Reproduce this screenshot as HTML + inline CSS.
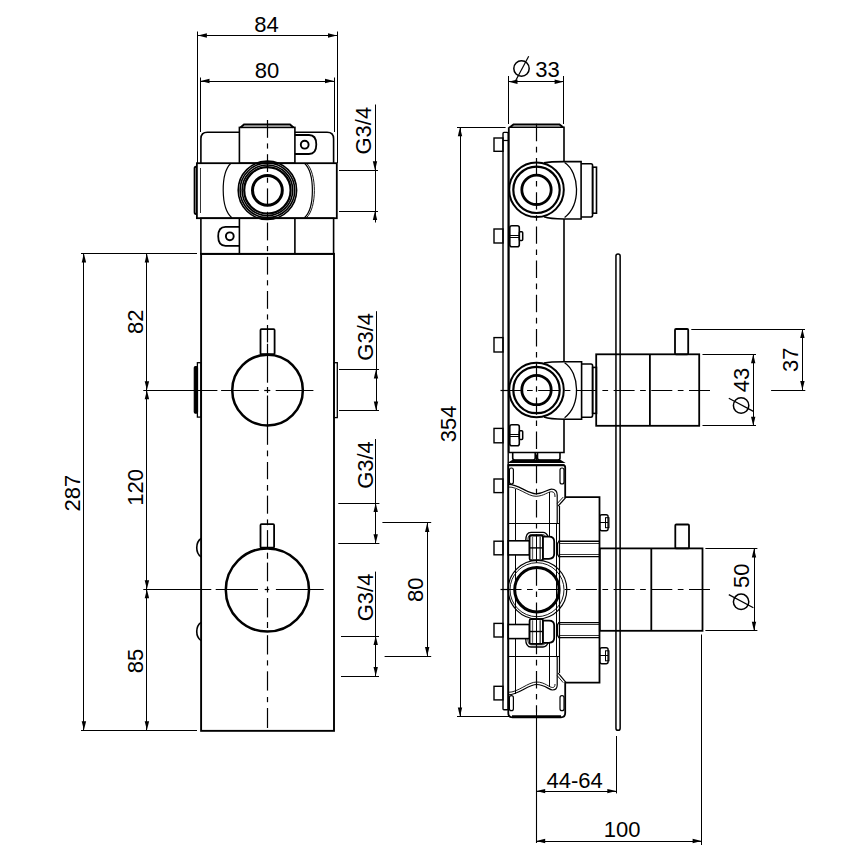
<!DOCTYPE html>
<html><head><meta charset="utf-8"><style>
html,body{margin:0;padding:0;background:#fff;}
svg{display:block;font-family:"Liberation Sans",sans-serif;}
</style></head><body>
<svg width="853" height="853" viewBox="0 0 853 853">
<rect width="853" height="853" fill="#fff"/>
<line x1="197.5" y1="31.5" x2="197.5" y2="163" stroke="#000" stroke-width="1.0" />
<line x1="337.5" y1="31.5" x2="337.5" y2="163" stroke="#000" stroke-width="1.0" />
<line x1="197.4" y1="35.5" x2="337.5" y2="35.5" stroke="#000" stroke-width="1.0" />
<polygon points="197.9,35.5 206.90,33.30 206.90,37.70" fill="#000"/>
<polygon points="337,35.5 328.00,37.70 328.00,33.30" fill="#000"/>
<text x="266.5" y="32" font-size="22" text-anchor="middle">84</text>
<line x1="200.5" y1="77.5" x2="200.5" y2="132" stroke="#000" stroke-width="1.0" />
<line x1="334.5" y1="77.5" x2="334.5" y2="132" stroke="#000" stroke-width="1.0" />
<line x1="200.5" y1="81.5" x2="334" y2="81.5" stroke="#000" stroke-width="1.0" />
<polygon points="200.5,81 209.50,78.80 209.50,83.20" fill="#000"/>
<polygon points="334,81 325.00,83.20 325.00,78.80" fill="#000"/>
<text x="267" y="77.5" font-size="22" text-anchor="middle">80</text>
<path d="M200.9,163.2 V138.8 Q200.9,132.3 207.4,132.3 H239.4" fill="none" stroke="#000" stroke-width="1.6" />
<path d="M294.9,132.3 H327.1 Q333.6,132.3 333.6,138.8 V163.2" fill="none" stroke="#000" stroke-width="1.6" />
<rect x="239.4" y="127.4" width="55.5" height="35.8" rx="0" fill="none" stroke="#000" stroke-width="1.6"/>
<path d="M240.5,127.4 L244,124.5 H290 L293.5,127.4" fill="none" stroke="#000" stroke-width="2.0" />
<rect x="196.9" y="163.2" width="139.9" height="55" rx="0" fill="none" stroke="#000" stroke-width="1.8"/>
<path d="M197,166.8 H196 Q194.6,166.8 194.6,168.5 V212.3 Q194.6,214 196,214 H197" fill="none" stroke="#000" stroke-width="1.9" />
<line x1="196.5" y1="167.5" x2="196.5" y2="213.5" stroke="#000" stroke-width="1.0" />
<line x1="200.5" y1="168" x2="200.5" y2="213" stroke="#000" stroke-width="0.8" />
<rect x="200.9" y="218.2" width="132.7" height="35.8" rx="0" fill="none" stroke="#000" stroke-width="1.6"/>
<line x1="239.4" y1="218.2" x2="239.4" y2="254" stroke="#000" stroke-width="1.6" />
<line x1="294.9" y1="218.2" x2="294.9" y2="254" stroke="#000" stroke-width="1.6" />
<path d="M230.9,163.2 C220.5,173 220.5,208 231.8,217.7" fill="none" stroke="#000" stroke-width="1.2" />
<path d="M304.5,163.2 C315,173 315,208 304.5,217.7" fill="none" stroke="#000" stroke-width="1.2" />
<path d="M306.5,163.2 C317,173 317,208 306.5,217.7" fill="none" stroke="#000" stroke-width="0.9" />
<path d="M294.9,135 H309 Q316.3,135 316.3,144.5 Q316.3,154 309,154 H294.9" fill="none" stroke="#000" stroke-width="1.8" />
<circle cx="304.7" cy="144.7" r="3.9" fill="none" stroke="#000" stroke-width="1.9"/>
<path d="M239.4,226.8 H225.5 Q218.2,226.8 218.2,236.3 Q218.2,245.8 225.5,245.8 H239.4" fill="none" stroke="#000" stroke-width="1.8" />
<circle cx="229.8" cy="236.3" r="3.9" fill="none" stroke="#000" stroke-width="1.9"/>
<circle cx="267.4" cy="190.3" r="29.2" fill="none" stroke="#000" stroke-width="1.6"/>
<circle cx="267.4" cy="190.3" r="27.3" fill="none" stroke="#000" stroke-width="1.6"/>
<circle cx="267.4" cy="190.3" r="25.3" fill="none" stroke="#000" stroke-width="1.6"/>
<circle cx="267.4" cy="190.3" r="23.2" fill="none" stroke="#000" stroke-width="2.2"/>
<circle cx="267.4" cy="190.3" r="14.9" fill="none" stroke="#000" stroke-width="3.0"/>
<line x1="267.5" y1="120" x2="267.5" y2="137.8" stroke="#000" stroke-width="1.2" />
<line x1="267.5" y1="143.4" x2="267.5" y2="148.6" stroke="#000" stroke-width="1.2" />
<line x1="267.5" y1="154.2" x2="267.5" y2="172" stroke="#000" stroke-width="1.2" />
<line x1="267.5" y1="177.6" x2="267.5" y2="182.8" stroke="#000" stroke-width="1.2" />
<line x1="267.5" y1="188.4" x2="267.5" y2="206.2" stroke="#000" stroke-width="1.2" />
<line x1="267.5" y1="211.8" x2="267.5" y2="217" stroke="#000" stroke-width="1.2" />
<line x1="267.5" y1="222.6" x2="267.5" y2="240.4" stroke="#000" stroke-width="1.2" />
<line x1="267.5" y1="246" x2="267.5" y2="251.2" stroke="#000" stroke-width="1.2" />
<line x1="267.5" y1="256.8" x2="267.5" y2="274.6" stroke="#000" stroke-width="1.2" />
<line x1="267.5" y1="280.2" x2="267.5" y2="285.4" stroke="#000" stroke-width="1.2" />
<line x1="267.5" y1="291" x2="267.5" y2="308.8" stroke="#000" stroke-width="1.2" />
<line x1="267.5" y1="314.4" x2="267.5" y2="319.6" stroke="#000" stroke-width="1.2" />
<line x1="267.5" y1="325" x2="267.5" y2="342.4" stroke="#000" stroke-width="1.2" />
<line x1="267.5" y1="343.8" x2="267.5" y2="382.7" stroke="#000" stroke-width="1.2" />
<line x1="267.5" y1="387" x2="267.5" y2="393" stroke="#000" stroke-width="1.2" />
<line x1="267.5" y1="395.5" x2="267.5" y2="444.8" stroke="#000" stroke-width="1.2" />
<line x1="267.5" y1="450.5" x2="267.5" y2="456.3" stroke="#000" stroke-width="1.2" />
<line x1="267.5" y1="462" x2="267.5" y2="479.2" stroke="#000" stroke-width="1.2" />
<line x1="267.5" y1="485" x2="267.5" y2="490.7" stroke="#000" stroke-width="1.2" />
<line x1="267.5" y1="495.6" x2="267.5" y2="513.7" stroke="#000" stroke-width="1.2" />
<line x1="267.5" y1="519.4" x2="267.5" y2="525.2" stroke="#000" stroke-width="1.2" />
<line x1="267.5" y1="530.1" x2="267.5" y2="548.2" stroke="#000" stroke-width="1.2" />
<line x1="267.5" y1="552.7" x2="267.5" y2="558.8" stroke="#000" stroke-width="1.2" />
<line x1="267.5" y1="562.6" x2="267.5" y2="581.3" stroke="#000" stroke-width="1.2" />
<line x1="267.5" y1="586.5" x2="267.5" y2="592.5" stroke="#000" stroke-width="1.2" />
<line x1="267.5" y1="598" x2="267.5" y2="617.4" stroke="#000" stroke-width="1.2" />
<line x1="267.5" y1="622" x2="267.5" y2="628" stroke="#000" stroke-width="1.2" />
<line x1="267.5" y1="635.2" x2="267.5" y2="654.5" stroke="#000" stroke-width="1.2" />
<line x1="267.5" y1="660.3" x2="267.5" y2="665.5" stroke="#000" stroke-width="1.2" />
<line x1="267.5" y1="671.3" x2="267.5" y2="690.6" stroke="#000" stroke-width="1.2" />
<line x1="267.5" y1="697" x2="267.5" y2="702.2" stroke="#000" stroke-width="1.2" />
<line x1="267.5" y1="708" x2="267.5" y2="728" stroke="#000" stroke-width="1.2" />
<rect x="201.1" y="253.85" width="132.9" height="477" rx="0" fill="none" stroke="#000" stroke-width="1.9"/>
<rect x="260.5" y="329.2" width="14.1" height="25" rx="1" fill="none" stroke="#000" stroke-width="1.8"/>
<circle cx="267.55" cy="390.15" r="35.3" fill="none" stroke="#000" stroke-width="2.5"/>
<line x1="143.3" y1="390.5" x2="217.4" y2="390.5" stroke="#000" stroke-width="1.2" />
<line x1="221.1" y1="390.5" x2="258.8" y2="390.5" stroke="#000" stroke-width="1.2" />
<line x1="264.2" y1="390.5" x2="270.3" y2="390.5" stroke="#000" stroke-width="1.2" />
<line x1="275.7" y1="390.5" x2="313.4" y2="390.5" stroke="#000" stroke-width="1.2" />
<rect x="197.4" y="362.7" width="3.7" height="54.4" rx="0" fill="none" stroke="#000" stroke-width="1.3"/>
<rect x="194.3" y="366.6" width="3.2" height="46.6" rx="1.2" fill="#000" stroke="#000" stroke-width="1.2"/>
<rect x="334" y="362.7" width="3.3" height="54.9" rx="0" fill="none" stroke="#000" stroke-width="1.3"/>
<rect x="260.5" y="524.2" width="13.6" height="23.5" rx="1" fill="none" stroke="#000" stroke-width="1.8"/>
<circle cx="267.4" cy="590.0" r="41.6" fill="none" stroke="#000" stroke-width="2.5"/>
<line x1="143.3" y1="589.5" x2="211.3" y2="589.5" stroke="#000" stroke-width="1.2" />
<line x1="215.7" y1="589.5" x2="258" y2="589.5" stroke="#000" stroke-width="1.2" />
<line x1="264.7" y1="589.5" x2="269.2" y2="589.5" stroke="#000" stroke-width="1.2" />
<line x1="275.9" y1="589.5" x2="323.7" y2="589.5" stroke="#000" stroke-width="1.2" />
<path d="M201.1,538.5 C195.3,542.5 195.3,552.8 201.1,556.8" fill="none" stroke="#000" stroke-width="1.6" />
<path d="M201.1,622.3 C195.3,626.3 195.3,636.6 201.1,640.6" fill="none" stroke="#000" stroke-width="1.6" />
<line x1="81" y1="253.5" x2="197" y2="253.5" stroke="#000" stroke-width="1.0" />
<line x1="81" y1="730.5" x2="197" y2="730.5" stroke="#000" stroke-width="1.0" />
<line x1="83.5" y1="253.4" x2="83.5" y2="730.3" stroke="#000" stroke-width="1.0" />
<polygon points="83.9,253.4 86.10,262.40 81.70,262.40" fill="#000"/>
<polygon points="83.9,730.3 81.70,721.30 86.10,721.30" fill="#000"/>
<text x="0" y="0" transform="translate(79.8,493.2) rotate(-90)" font-size="22" text-anchor="middle">287</text>
<line x1="146.5" y1="253.4" x2="146.5" y2="730.3" stroke="#000" stroke-width="1.0" />
<polygon points="146.9,253.4 149.10,262.40 144.70,262.40" fill="#000"/>
<polygon points="146.9,390.2 144.70,381.20 149.10,381.20" fill="#000"/>
<polygon points="146.9,390.2 149.10,399.20 144.70,399.20" fill="#000"/>
<polygon points="146.9,589.3 144.70,580.30 149.10,580.30" fill="#000"/>
<polygon points="146.9,589.3 149.10,598.30 144.70,598.30" fill="#000"/>
<polygon points="146.9,730.3 144.70,721.30 149.10,721.30" fill="#000"/>
<text x="0" y="0" transform="translate(143.2,321.8) rotate(-90)" font-size="22" text-anchor="middle">82</text>
<text x="0" y="0" transform="translate(143.2,487.3) rotate(-90)" font-size="22" text-anchor="middle">120</text>
<text x="0" y="0" transform="translate(143.2,661) rotate(-90)" font-size="22" text-anchor="middle">85</text>
<line x1="375.5" y1="104.5" x2="375.5" y2="222.5" stroke="#000" stroke-width="1.0" />
<line x1="339" y1="170.5" x2="378" y2="170.5" stroke="#000" stroke-width="1.0" />
<line x1="339" y1="211.5" x2="378" y2="211.5" stroke="#000" stroke-width="1.0" />
<polygon points="375,170.2 372.80,161.20 377.20,161.20" fill="#000"/>
<polygon points="375,211 377.20,220.00 372.80,220.00" fill="#000"/>
<text x="0" y="0" transform="translate(370.5,130.7) rotate(-90)" font-size="22" text-anchor="middle">G3/4</text>
<line x1="376.5" y1="311.2" x2="376.5" y2="410.5" stroke="#000" stroke-width="1.0" />
<line x1="339" y1="369.5" x2="379" y2="369.5" stroke="#000" stroke-width="1.0" />
<line x1="339" y1="410.5" x2="379" y2="410.5" stroke="#000" stroke-width="1.0" />
<polygon points="376,369.5 378.20,378.50 373.80,378.50" fill="#000"/>
<polygon points="376,410.5 373.80,401.50 378.20,401.50" fill="#000"/>
<text x="0" y="0" transform="translate(372.5,336.8) rotate(-90)" font-size="22" text-anchor="middle">G3/4</text>
<line x1="375.5" y1="439" x2="375.5" y2="543.3" stroke="#000" stroke-width="1.0" />
<line x1="338.3" y1="503.5" x2="379.4" y2="503.5" stroke="#000" stroke-width="1.0" />
<line x1="338.3" y1="543.5" x2="379.4" y2="543.5" stroke="#000" stroke-width="1.0" />
<polygon points="375.7,503.1 377.90,512.10 373.50,512.10" fill="#000"/>
<polygon points="375.7,543.3 373.50,534.30 377.90,534.30" fill="#000"/>
<text x="0" y="0" transform="translate(372.7,465) rotate(-90)" font-size="22" text-anchor="middle">G3/4</text>
<line x1="375.5" y1="571.6" x2="375.5" y2="676.1" stroke="#000" stroke-width="1.0" />
<line x1="341" y1="636.5" x2="379" y2="636.5" stroke="#000" stroke-width="1.0" />
<line x1="341" y1="676.5" x2="379" y2="676.5" stroke="#000" stroke-width="1.0" />
<polygon points="375.7,636 377.90,645.00 373.50,645.00" fill="#000"/>
<polygon points="375.7,676.1 373.50,667.10 377.90,667.10" fill="#000"/>
<text x="0" y="0" transform="translate(372.7,597.4) rotate(-90)" font-size="22" text-anchor="middle">G3/4</text>
<line x1="427.5" y1="522.9" x2="427.5" y2="656" stroke="#000" stroke-width="1.0" />
<line x1="382.4" y1="522.5" x2="431.2" y2="522.5" stroke="#000" stroke-width="1.0" />
<line x1="384.6" y1="656.5" x2="431.2" y2="656.5" stroke="#000" stroke-width="1.0" />
<polygon points="427.2,522.9 429.40,531.90 425.00,531.90" fill="#000"/>
<polygon points="427.2,656 425.00,647.00 429.40,647.00" fill="#000"/>
<text x="0" y="0" transform="translate(423,589.8) rotate(-90)" font-size="22" text-anchor="middle">80</text>
<line x1="508.5" y1="76" x2="508.5" y2="124" stroke="#000" stroke-width="1.0" />
<line x1="563.5" y1="76" x2="563.5" y2="124" stroke="#000" stroke-width="1.0" />
<line x1="508.5" y1="81.5" x2="563.6" y2="81.5" stroke="#000" stroke-width="1.0" />
<polygon points="508.5,81.7 517.50,79.50 517.50,83.90" fill="#000"/>
<polygon points="563.6,81.7 554.60,83.90 554.60,79.50" fill="#000"/>
<g><circle cx="521.5" cy="68.5" r="7.7" fill="none" stroke="#000" stroke-width="1.5"/><line x1="515.6" y1="80.8" x2="528.7" y2="56.2" stroke="#000" stroke-width="1.2"/></g>
<text x="547.4" y="77.2" font-size="22" text-anchor="middle">33</text>
<line x1="457" y1="127.5" x2="505.6" y2="127.5" stroke="#000" stroke-width="1.0" />
<line x1="457" y1="716.5" x2="509.4" y2="716.5" stroke="#000" stroke-width="1.0" />
<line x1="460.5" y1="127.2" x2="460.5" y2="716.4" stroke="#000" stroke-width="1.0" />
<polygon points="460,127.2 462.20,136.20 457.80,136.20" fill="#000"/>
<polygon points="460,716.4 457.80,707.40 462.20,707.40" fill="#000"/>
<text x="0" y="0" transform="translate(456,423.9) rotate(-90)" font-size="22" text-anchor="middle">354</text>
<line x1="508.8" y1="127.3" x2="508.8" y2="452.5" stroke="#000" stroke-width="1.8" />
<path d="M508.8,127.3 H564 V161.7" fill="none" stroke="#000" stroke-width="1.6" />
<path d="M564,219 V361.1" fill="none" stroke="#000" stroke-width="1.6" />
<path d="M564,418.8 V452.5 H508.8" fill="none" stroke="#000" stroke-width="1.6" />
<path d="M510,127.3 L513.5,124.4 H559.5 L563,127.3" fill="none" stroke="#000" stroke-width="2.0" />
<rect x="503" y="132.4" width="5.2" height="577.4" rx="1" fill="none" stroke="#000" stroke-width="1.4"/>
<line x1="503" y1="140.5" x2="508.2" y2="140.5" stroke="#000" stroke-width="1.2" />
<rect x="494" y="138" width="9" height="13.300000000000011" rx="0" fill="none" stroke="#000" stroke-width="1.4"/>
<rect x="494" y="229" width="9" height="14" rx="0" fill="none" stroke="#000" stroke-width="1.4"/>
<rect x="494" y="337.6" width="9" height="14.399999999999977" rx="0" fill="none" stroke="#000" stroke-width="1.4"/>
<rect x="494" y="428.4" width="9" height="14.400000000000034" rx="0" fill="none" stroke="#000" stroke-width="1.4"/>
<rect x="494" y="479" width="9" height="13.600000000000023" rx="0" fill="none" stroke="#000" stroke-width="1.4"/>
<rect x="494" y="541.2" width="9" height="13.599999999999909" rx="0" fill="none" stroke="#000" stroke-width="1.4"/>
<rect x="494" y="623.4" width="9" height="13.600000000000023" rx="0" fill="none" stroke="#000" stroke-width="1.4"/>
<rect x="494" y="686.3" width="9" height="13.600000000000023" rx="0" fill="none" stroke="#000" stroke-width="1.4"/>
<rect x="509.8" y="225.7" width="9.5" height="21" rx="2" fill="none" stroke="#000" stroke-width="1.6"/>
<rect x="519.3" y="231.79999999999998" width="3.4" height="8.8" rx="1" fill="none" stroke="#000" stroke-width="1.5"/>
<line x1="509.8" y1="235.5" x2="519.3" y2="235.5" stroke="#000" stroke-width="1.0" />
<line x1="509.8" y1="237.5" x2="519.3" y2="237.5" stroke="#000" stroke-width="1.0" />
<rect x="509.8" y="424.7" width="9.5" height="21" rx="2" fill="none" stroke="#000" stroke-width="1.6"/>
<rect x="519.3" y="430.8" width="3.4" height="8.8" rx="1" fill="none" stroke="#000" stroke-width="1.5"/>
<line x1="509.8" y1="434.5" x2="519.3" y2="434.5" stroke="#000" stroke-width="1.0" />
<line x1="509.8" y1="436.5" x2="519.3" y2="436.5" stroke="#000" stroke-width="1.0" />
<circle cx="536.5" cy="189.8" r="27.3" fill="none" stroke="#000" stroke-width="2.0"/>
<circle cx="536.5" cy="189.8" r="23.2" fill="none" stroke="#000" stroke-width="2.2"/>
<circle cx="536.5" cy="189.8" r="14.7" fill="none" stroke="#000" stroke-width="2.8"/>
<path d="M544,162.8 Q550,161.60000000000002 564,161.60000000000002 H581.1 V219.0 H564 Q550,219.0 544,216.8" fill="none" stroke="#000" stroke-width="1.6" />
<path d="M564.6,162.5 C580,172.8 581,204.8 564.6,217.60000000000002" fill="none" stroke="#000" stroke-width="1.3" />
<path d="M581.1,163.8 H591 Q592.6,163.8 592.6,165.8 V214.8 Q592.6,217.0 591,217.0 H581.1" fill="none" stroke="#000" stroke-width="1.6" />
<rect x="592.6" y="167.20000000000002" width="3.9" height="46" rx="0" fill="none" stroke="#000" stroke-width="1.6"/>
<circle cx="536.5" cy="390" r="27.3" fill="none" stroke="#000" stroke-width="2.0"/>
<circle cx="536.5" cy="390" r="23.2" fill="none" stroke="#000" stroke-width="2.2"/>
<circle cx="536.5" cy="390" r="14.7" fill="none" stroke="#000" stroke-width="2.8"/>
<path d="M544,363 Q550,361.8 564,361.8 H581.6 V419.2 H564 Q550,419.2 544,417" fill="none" stroke="#000" stroke-width="1.6" />
<path d="M564.6,362.7 C580,373 581,405 564.6,417.8" fill="none" stroke="#000" stroke-width="1.3" />
<path d="M581.6,364 H591 Q592.6,364 592.6,366 V415 Q592.6,417.2 591,417.2 H581.6" fill="none" stroke="#000" stroke-width="1.6" />
<rect x="592.6" y="367.4" width="3.9" height="46" rx="0" fill="none" stroke="#000" stroke-width="1.6"/>
<rect x="615.95" y="253.95" width="4.2" height="476.3" rx="2.1" fill="none" stroke="#000" stroke-width="1.5"/>
<line x1="536.5" y1="121" x2="536.5" y2="712" stroke="#000" stroke-width="1.2" stroke-dasharray="17.4 5.6 5.6 5.6" stroke-dashoffset="31.4"/>
<line x1="536.5" y1="712" x2="536.5" y2="843" stroke="#000" stroke-width="1.1" />
<rect x="596.2" y="354.3" width="103" height="71.5" rx="0" fill="none" stroke="#000" stroke-width="1.8"/>
<line x1="649.9" y1="354.3" x2="649.9" y2="425.8" stroke="#000" stroke-width="1.8" />
<rect x="675" y="329" width="13.2" height="25.3" rx="1" fill="none" stroke="#000" stroke-width="1.8"/>
<line x1="500.5" y1="390.5" x2="711" y2="390.5" stroke="#000" stroke-width="1.2" stroke-dasharray="21 5.5 5.7 5.5" stroke-dashoffset="0"/>
<line x1="771.1" y1="390.5" x2="805.3" y2="390.5" stroke="#000" stroke-width="1.0" />
<line x1="702.5" y1="354.5" x2="756" y2="354.5" stroke="#000" stroke-width="1.0" />
<line x1="702.5" y1="425.5" x2="756" y2="425.5" stroke="#000" stroke-width="1.0" />
<line x1="753.5" y1="354.3" x2="753.5" y2="425.8" stroke="#000" stroke-width="1.0" />
<polygon points="753.2,354.3 755.40,363.30 751.00,363.30" fill="#000"/>
<polygon points="753.2,425.8 751.00,416.80 755.40,416.80" fill="#000"/>
<g transform="rotate(-90 741.1 405.5)"><circle cx="741.1" cy="405.5" r="7.7" fill="none" stroke="#000" stroke-width="1.5"/><line x1="735.2" y1="417.8" x2="748.3000000000001" y2="393.2" stroke="#000" stroke-width="1.2"/></g>
<text x="0" y="0" transform="translate(749,380) rotate(-90)" font-size="22" text-anchor="middle">43</text>
<line x1="691.3" y1="329.5" x2="805" y2="329.5" stroke="#000" stroke-width="1.0" />
<line x1="802.5" y1="329" x2="802.5" y2="390" stroke="#000" stroke-width="1.0" />
<polygon points="802.4,329 804.60,338.00 800.20,338.00" fill="#000"/>
<polygon points="802.4,390 800.20,381.00 804.60,381.00" fill="#000"/>
<text x="0" y="0" transform="translate(798,359.7) rotate(-90)" font-size="22" text-anchor="middle">37</text>
<path d="M512.7,452.5 V458 Q512.7,460 515,460 H533 Q535.2,460 535.2,458 V452.5" fill="none" stroke="#000" stroke-width="1.6" />
<path d="M537.5,452.5 V458 Q537.5,460 539.8,460 H557.8 Q560,460 560,458 V452.5" fill="none" stroke="#000" stroke-width="1.6" />
<path d="M512.8,460.4 H560.2 L563.5,462.4 H509.5 Z" fill="#000" stroke="#000" stroke-width="1.2" />
<path d="M508.3,465.2 H563 Q565.2,465.2 565.2,467.5 V497.1 H599.5 V682.6 H565.2 V713 Q565.2,717.3 561,717.3 H512.5 Q508.3,717.3 508.3,713 Z" fill="none" stroke="#000" stroke-width="1.8" />
<line x1="509" y1="465.3" x2="564.5" y2="465.3" stroke="#000" stroke-width="2.0" />
<line x1="512" y1="716.6" x2="561" y2="716.6" stroke="#000" stroke-width="2.6" />
<rect x="509.4" y="468" width="4" height="16" rx="2" fill="none" stroke="#000" stroke-width="1.2"/>
<rect x="509.4" y="695.7" width="4" height="15" rx="2" fill="none" stroke="#000" stroke-width="1.2"/>
<rect x="560.0" y="468" width="4" height="16" rx="2" fill="none" stroke="#000" stroke-width="1.2"/>
<rect x="560.0" y="695.7" width="4" height="15" rx="2" fill="none" stroke="#000" stroke-width="1.2"/>
<path d="M508.3,484.4 C518,484 528,494 536.1,493.8 C544,493.6 548,489 551.6,489.1 C556,489.2 557.2,492 557.2,495 V523" fill="none" stroke="#000" stroke-width="1.2" />
<path d="M508.3,487.0 C518,486.6 528,496.5 536.1,496.3 C544,496.1 548,491.6 551.6,491.7 C554.5,491.8 555,494 555,497" fill="none" stroke="#000" stroke-width="0.9" />
<path d="M508.3,694.8 C518,695 528,684.5 536.6,684.5 C545,684.5 549,690 552.5,690 C556,690 557.2,688 557.2,685 V657" fill="none" stroke="#000" stroke-width="1.2" />
<path d="M508.3,692.3 C518,692.5 528,682 536.6,682 C545,682 549,687.5 552.5,687.5 C554.5,687.5 555,686 555,684" fill="none" stroke="#000" stroke-width="0.9" />
<path d="M566.1,497.1 L558.2,506" fill="none" stroke="#000" stroke-width="1.2" />
<path d="M563.2,497.1 L557.2,503.6" fill="none" stroke="#000" stroke-width="0.9" />
<path d="M566.1,682.6 L558.2,673.2" fill="none" stroke="#000" stroke-width="1.2" />
<path d="M563.2,682.6 L557.2,675.6" fill="none" stroke="#000" stroke-width="0.9" />
<line x1="515.5" y1="489" x2="515.5" y2="694" stroke="#000" stroke-width="1.0" />
<line x1="549.5" y1="492" x2="549.5" y2="536.6" stroke="#000" stroke-width="1.0" />
<line x1="549.5" y1="642.8" x2="549.5" y2="687" stroke="#000" stroke-width="1.0" />
<line x1="559.5" y1="506" x2="559.5" y2="673" stroke="#000" stroke-width="1.2" />
<line x1="556.5" y1="523" x2="556.5" y2="657" stroke="#000" stroke-width="1.0" />
<line x1="508.3" y1="523.5" x2="559.1" y2="523.5" stroke="#000" stroke-width="1.2" />
<line x1="508.3" y1="656.5" x2="559.1" y2="656.5" stroke="#000" stroke-width="1.2" />
<rect x="599.9" y="514.7" width="8.2" height="16" rx="2" fill="none" stroke="#000" stroke-width="1.4"/>
<line x1="599.9" y1="522.5" x2="608.1" y2="522.5" stroke="#000" stroke-width="1.0" />
<rect x="605.5" y="517.7" width="3.5" height="10" rx="0" fill="none" stroke="#000" stroke-width="1.0"/>
<rect x="599.9" y="647.8" width="8.2" height="16" rx="2" fill="none" stroke="#000" stroke-width="1.4"/>
<line x1="599.9" y1="655.5" x2="608.1" y2="655.5" stroke="#000" stroke-width="1.0" />
<rect x="605.5" y="650.8" width="3.5" height="10" rx="0" fill="none" stroke="#000" stroke-width="1.0"/>
<line x1="558.2" y1="541.3" x2="599.5" y2="541.3" stroke="#000" stroke-width="1.4" />
<line x1="560" y1="543.5" x2="599.5" y2="543.5" stroke="#000" stroke-width="0.8" />
<line x1="558.2" y1="556.6" x2="599.5" y2="556.6" stroke="#000" stroke-width="1.4" />
<line x1="560" y1="554.5" x2="599.5" y2="554.5" stroke="#000" stroke-width="0.8" />
<path d="M560.5,541.3 Q557.5,541.3 557.5,544.3 V553.6 Q557.5,556.6 560.5,556.6" fill="none" stroke="#000" stroke-width="1.2" />
<line x1="558.2" y1="622.6" x2="599.5" y2="622.6" stroke="#000" stroke-width="1.4" />
<line x1="560" y1="624.5" x2="599.5" y2="624.5" stroke="#000" stroke-width="0.8" />
<line x1="558.2" y1="637.6" x2="599.5" y2="637.6" stroke="#000" stroke-width="1.4" />
<line x1="560" y1="635.5" x2="599.5" y2="635.5" stroke="#000" stroke-width="0.8" />
<path d="M560.5,622.6 Q557.5,622.6 557.5,625.6 V634.6 Q557.5,637.6 560.5,637.6" fill="none" stroke="#000" stroke-width="1.2" />
<path d="M525.7,541 C525.7,535 527,532.4 531,532.4 H543 C546,532.4 547,534 548,536.6" fill="none" stroke="#000" stroke-width="1.3" />
<path d="M527.8,541 C527.8,536.5 529,534.6 531.5,534.6 H542.5 C544.5,534.6 545,535.5 545.6,536.6" fill="none" stroke="#000" stroke-width="0.8" />
<rect x="508.3" y="540.8" width="21.2" height="14.100000000000023" rx="0" fill="#fff" stroke="#000" stroke-width="1.6"/>
<rect x="529.6" y="535.5" width="13.4" height="24.700000000000045" rx="1.5" fill="#fff" stroke="#000" stroke-width="1.8"/>
<line x1="532.5" y1="536.5" x2="532.5" y2="559.2" stroke="#666" stroke-width="1.3" />
<line x1="540.2" y1="536.5" x2="540.2" y2="559.2" stroke="#555" stroke-width="1.6" />
<line x1="536.5" y1="535.5" x2="536.5" y2="560.2" stroke="#000" stroke-width="1.0" />
<line x1="529.6" y1="547.9" x2="543" y2="547.9" stroke="#000" stroke-width="1.4" />
<path d="M543,536.6 H549 Q554.2,536.6 554.2,541.6 V553.8 Q554.2,558.8 549,558.8 H543 Z" fill="#fff" stroke="#000" stroke-width="1.8" />
<path d="M525.7,638.4000000000001 C525.7,644.4000000000001 527,647.0000000000001 531,647.0000000000001 H543 C546,647.0000000000001 547,645.4000000000001 548,642.8000000000001" fill="none" stroke="#000" stroke-width="1.3" />
<path d="M527.8,638.4000000000001 C527.8,642.9000000000001 529,644.8000000000001 531.5,644.8000000000001 H542.5 C544.5,644.8000000000001 545,643.9000000000001 545.6,642.8000000000001" fill="none" stroke="#000" stroke-width="0.8" />
<rect x="508.3" y="624.5000000000001" width="21.2" height="14.100000000000023" rx="0" fill="#fff" stroke="#000" stroke-width="1.6"/>
<rect x="529.6" y="619.2" width="13.4" height="24.700000000000045" rx="1.5" fill="#fff" stroke="#000" stroke-width="1.8"/>
<line x1="532.5" y1="620.2" x2="532.5" y2="642.9000000000001" stroke="#666" stroke-width="1.3" />
<line x1="540.2" y1="620.2" x2="540.2" y2="642.9000000000001" stroke="#555" stroke-width="1.6" />
<line x1="536.5" y1="619.2" x2="536.5" y2="643.9000000000001" stroke="#000" stroke-width="1.0" />
<line x1="529.6" y1="631.5000000000001" x2="543" y2="631.5000000000001" stroke="#000" stroke-width="1.4" />
<path d="M543,620.6000000000001 H549 Q554.2,620.6000000000001 554.2,625.6000000000001 V637.8000000000001 Q554.2,642.8000000000001 549,642.8000000000001 H543 Z" fill="#fff" stroke="#000" stroke-width="1.8" />
<circle cx="537.5" cy="589.6" r="29.3" fill="none" stroke="#000" stroke-width="1.2"/>
<circle cx="537.0" cy="589.7" r="27.0" fill="none" stroke="#000" stroke-width="0.9"/>
<circle cx="536.9" cy="589.7" r="22.2" fill="none" stroke="#000" stroke-width="3.0"/>
<line x1="500.5" y1="589.5" x2="712" y2="589.5" stroke="#000" stroke-width="1.2" stroke-dasharray="21 5.5 5.7 5.5" stroke-dashoffset="0"/>
<rect x="599.8" y="548.4" width="102.7" height="82.4" rx="0" fill="none" stroke="#000" stroke-width="1.8"/>
<line x1="651.3" y1="548.4" x2="651.3" y2="630.8" stroke="#000" stroke-width="1.8" />
<rect x="675.3" y="524.5" width="13.7" height="23.9" rx="1" fill="none" stroke="#000" stroke-width="1.8"/>
<line x1="705.4" y1="548.5" x2="757.4" y2="548.5" stroke="#000" stroke-width="1.0" />
<line x1="705.4" y1="630.5" x2="757.4" y2="630.5" stroke="#000" stroke-width="1.0" />
<line x1="754.5" y1="548.4" x2="754.5" y2="630.8" stroke="#000" stroke-width="1.0" />
<polygon points="754,548.4 756.20,557.40 751.80,557.40" fill="#000"/>
<polygon points="754,630.8 751.80,621.80 756.20,621.80" fill="#000"/>
<g transform="rotate(-90 741.1 601.8)"><circle cx="741.1" cy="601.8" r="7.7" fill="none" stroke="#000" stroke-width="1.5"/><line x1="735.2" y1="614.0999999999999" x2="748.3000000000001" y2="589.5" stroke="#000" stroke-width="1.2"/></g>
<text x="0" y="0" transform="translate(749,575.7) rotate(-90)" font-size="22" text-anchor="middle">50</text>
<line x1="616.5" y1="736" x2="616.5" y2="793.4" stroke="#000" stroke-width="1.0" />
<line x1="536.2" y1="791.5" x2="616.3" y2="791.5" stroke="#000" stroke-width="1.0" />
<polygon points="536.2,791.1 545.20,788.90 545.20,793.30" fill="#000"/>
<polygon points="616.3,791.1 607.30,793.30 607.30,788.90" fill="#000"/>
<text x="574.6" y="787.5" font-size="22" text-anchor="middle">44-64</text>
<line x1="701.5" y1="634.5" x2="701.5" y2="845" stroke="#000" stroke-width="1.0" />
<line x1="536.2" y1="841.5" x2="701.6" y2="841.5" stroke="#000" stroke-width="1.0" />
<polygon points="536.2,841 545.20,838.80 545.20,843.20" fill="#000"/>
<polygon points="701.6,841 692.60,843.20 692.60,838.80" fill="#000"/>
<text x="622.2" y="836.7" font-size="22" text-anchor="middle">100</text>
</svg></body></html>
